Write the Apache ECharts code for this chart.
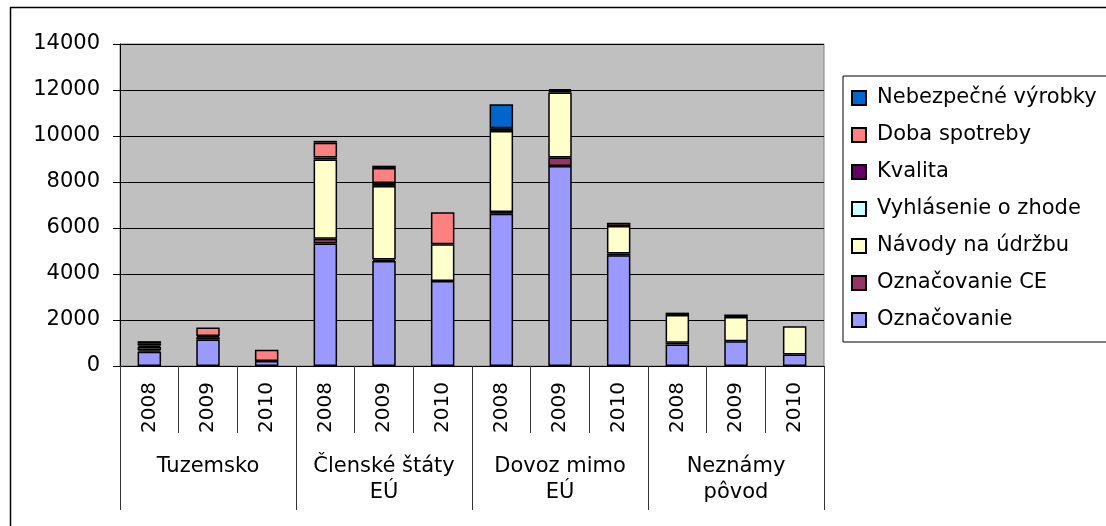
<!DOCTYPE html>
<html>
<head>
<meta charset="utf-8">
<script src="https://cdn.jsdelivr.net/npm/echarts@6/dist/echarts.min.js"></script>
<style>html,body{margin:0;padding:0;background:#fff;}#c{width:1106px;height:526px;}</style>
</head>
<body>
<div id="c"></div>
<script>
var years = ['2008','2009','2010','2008','2009','2010','2008','2009','2010','2008','2009','2010'];
var groups = ['Tuzemsko','Členské štáty\nEÚ','Dovoz mimo\nEÚ','Neznámy\npôvod'];
var yTicks = [0, 2000, 4000, 6000, 8000, 10000, 12000, 14000];

var seriesNames = ['Označovanie','Označovanie CE','Návody na údržbu','Vyhlásenie o zhode','Kvalita','Doba spotreby','Nebezpečné výrobky'];
var oznacovanie   = [620, 1150, 220, 5330, 4570, 3700, 6620, 8700, 4810, 940, 1080, 500];
var oznacovanieCE = [60, 100, 0, 200, 60, 0, 80, 360, 80, 70, 0, 0];
var navody        = [150, 0, 0, 3450, 3200, 1590, 3520, 2830, 1200, 1210, 1050, 1230];
var vyhlasenie    = [0, 0, 0, 0, 130, 0, 120, 0, 0, 0, 0, 0];
var kvalita       = [60, 50, 0, 80, 0, 0, 0, 60, 0, 100, 110, 0];
var doba          = [100, 370, 490, 650, 650, 1390, 0, 40, 140, 0, 0, 0];
var nebezpecne    = [90, 0, 0, 80, 100, 0, 1040, 50, 0, 0, 0, 0];

var values = [oznacovanie, oznacovanieCE, navody, vyhlasenie, kvalita, doba, nebezpecne];
var colors = ['#9999FF','#993366','#FFFFCC','#CCFFFF','#660066','#FF8080','#0066CC'];

var FONT = 'DejaVu Sans';
var chart = echarts.init(document.getElementById('c'), null, {renderer:'canvas'});

var series = values.map(function(v, i){
  return {
    name: seriesNames[i],
    type: 'bar',
    stack: 'total',
    xAxisIndex: 0,
    barWidth: '40%',
    data: v.map(function(x){ return x === 0 ? null : x; }),
    itemStyle: { color: colors[i], borderColor: '#000', borderWidth: 1.5 },
    emphasis: { disabled: true },
    animation: false
  };
});

chart.setOption({
  animation: false,
  textStyle: { fontFamily: FONT },
  graphic: [{
    type: 'rect', silent: true, z: -10,
    shape: { x: 10.5, y: 7.5, width: 1200, height: 600 },
    style: { fill: 'none', stroke: '#000', lineWidth: 1.5 }
  }],
  grid: {
    left: 120, right: 282, top: 44, bottom: 160,
    show: true, backgroundColor: '#C0C0C0', borderColor: '#808080', borderWidth: 1
  },
  legend: {
    orient: 'vertical',
    left: 843, top: 76,
    data: seriesNames.slice().reverse(),
    icon: 'rect',
    itemWidth: 14, itemHeight: 14,
    itemGap: 15,
    padding: [11, 12, 11, 8],
    borderColor: '#000', borderWidth: 1,
    backgroundColor: '#fff',
    selectedMode: false,
    textStyle: { fontFamily: FONT, fontSize: 21, color: '#000', lineHeight: 22, padding: [0, 0, 0, 6] }
  },
  xAxis: [{
    type: 'category',
    data: years,
    position: 'bottom',
    boundaryGap: true,
    axisLine: { show: true, lineStyle: { color: '#000', width: 1 } },
    axisTick: { show: true, interval: 0, length: 67, lineStyle: { color: '#333', width: 1 } },
    axisLabel: { interval: 0, rotate: 90, margin: 16, fontFamily: FONT, fontSize: 20, color: '#000' },
    splitLine: { show: false }
  }, {
    type: 'category',
    data: groups,
    position: 'bottom',
    boundaryGap: true,
    axisLine: { show: true, lineStyle: { color: '#000', width: 1 } },
    axisTick: { show: true, interval: 0, length: 144, lineStyle: { color: '#333', width: 1 } },
    axisLabel: { interval: 0, margin: 88, fontFamily: FONT, fontSize: 21, lineHeight: 26, color: '#000' },
    splitLine: { show: false }
  }],
  yAxis: {
    type: 'value',
    min: yTicks[0], max: yTicks[yTicks.length - 1], interval: 2000,
    axisLine: { show: true, lineStyle: { color: '#000', width: 1 } },
    axisTick: { show: true, length: 7, lineStyle: { color: '#000' } },
    axisLabel: { margin: 20, fontFamily: FONT, fontSize: 21, color: '#000',
      formatter: function(v){ return String(v); } },
    splitLine: { show: true, lineStyle: { color: '#000', width: 1 } }
  },
  series: series
});
</script>
</body>
</html>
